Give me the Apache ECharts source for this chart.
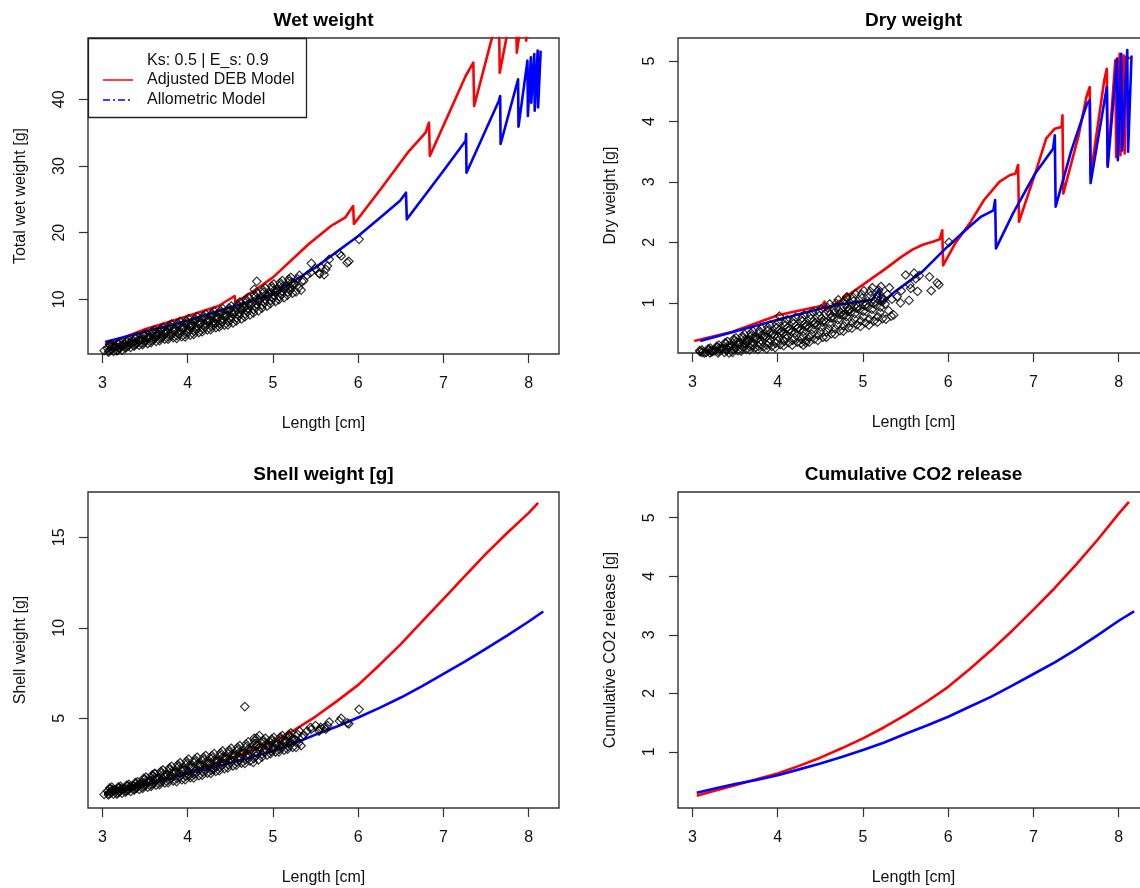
<!DOCTYPE html>
<html>
<head>
<meta charset="utf-8">
<script src="https://cdn.jsdelivr.net/npm/echarts@6/dist/echarts.min.js"></script>
<style>
html,body{margin:0;padding:0;background:#fff;}
#chart{width:1140px;height:888px;}
</style>
</head>
<body>
<div id="chart"></div>
<script>
// ---------------- DATA ----------------
const xTicks = [3, 4, 5, 6, 7, 8];
const wetTicks = [10, 20, 30, 40];
const dryTicks = [1, 2, 3, 4, 5];
const shellTicks = [5, 10, 15];
const co2Ticks = [1, 2, 3, 4, 5];

const panelTitles = ['Wet weight', 'Dry weight', 'Shell weight [g]', 'Cumulative CO2 release'];
const yTitles = ['Total wet weight [g]', 'Dry weight [g]', 'Shell weight [g]', 'Cumulative CO2 release [g]'];
const xTitle = 'Length [cm]';
const legendTitle = 'Ks: 0.5 | E_s: 0.9';
const legendNames = ['Adjusted DEB Model', 'Allometric Model'];

// observed individuals: length [cm] and weights [g]
const obsLength = [
  3.06,3.07,3.09,3.10,3.11,3.13,3.14,
  3.16,3.17,3.19,3.20,3.21,3.23,3.24,
  3.26,3.27,3.29,3.30,3.31,3.33,3.34,
  3.36,3.37,3.39,3.40,3.41,3.43,3.44,
  3.46,3.47,3.49,3.50,3.51,3.53,3.54,
  3.56,3.57,3.59,3.60,3.61,3.63,3.64,
  3.66,3.67,3.69,3.70,3.71,3.73,3.74,
  3.76,3.77,3.79,3.80,3.81,3.83,3.84,
  3.86,3.87,3.89,3.90,3.91,3.93,3.94,
  3.96,3.97,3.99,4.00,4.01,4.03,4.04,
  4.06,4.07,4.09,4.10,4.11,4.13,4.14,
  4.16,4.17,4.19,4.20,4.21,4.23,4.24,
  4.26,4.27,4.29,4.30,4.31,4.33,4.34,
  4.36,4.37,4.39,4.40,4.41,4.43,4.44,
  4.46,4.47,4.49,4.50,4.51,4.53,4.54,
  4.56,4.57,4.59,4.60,4.61,4.63,4.64,
  4.66,4.67,4.69,4.70,4.71,4.73,4.74,
  4.76,4.77,4.79,4.80,4.81,4.83,4.84,
  4.86,4.87,4.89,4.90,4.91,4.93,4.94,
  4.96,4.97,4.99,5.00,5.01,5.03,5.04,
  5.06,5.07,5.09,5.10,5.11,5.13,5.14,
  5.16,5.17,5.19,5.20,5.21,5.23,5.24,
  5.26,5.27,5.29,5.30,5.31,5.33,5.34,
  3.075,3.085,3.105,3.115,3.125,
  3.175,3.185,3.205,3.215,3.225,
  3.275,3.285,3.305,3.315,3.325,
  3.375,3.385,3.405,3.415,3.425,
  3.475,3.485,3.505,3.515,3.525,
  3.575,3.585,3.605,3.615,3.625,
  3.675,3.685,3.705,3.715,3.725,
  3.775,3.785,3.805,3.815,3.825,
  3.875,3.885,3.905,3.915,3.925,
  3.975,3.985,4.005,4.015,4.025,
  4.075,4.085,4.105,4.115,4.125,
  4.175,4.185,4.205,4.215,4.225,
  4.275,4.285,4.305,4.315,4.325,
  4.375,4.385,4.405,4.415,4.425,
  4.475,4.485,4.505,4.515,4.525,
  4.575,4.585,4.605,4.615,4.625,
  4.675,4.685,4.705,4.715,4.725,
  4.775,4.785,4.805,4.815,4.825,
  4.875,4.885,4.905,4.915,4.925,
  4.975,4.985,5.005,5.015,5.025,
  5.075,5.085,5.105,5.115,5.125,
  5.175,5.185,5.205,5.215,5.225,
  3.02,3.62,4.02,4.30,4.33,4.67,4.78,4.81,4.84,
  5.36,5.40,5.44,5.45,5.50,5.54,5.55,5.56,5.60,5.62,5.64,5.66,5.78,5.80,5.87,5.89,6.01
];
const obsWet = [
  2.65,2.07,3.04,2.39,3.30,2.20,2.85,
  2.85,2.27,3.24,2.59,3.50,2.40,3.05,
  3.25,2.67,3.64,2.99,3.90,2.80,3.45,
  3.65,2.98,4.10,3.35,4.40,3.13,3.88,
  4.00,3.19,4.54,3.64,4.90,3.37,4.27,
  4.40,3.50,5.00,4.00,5.40,3.70,4.70,
  4.75,3.80,5.38,4.33,5.80,4.02,5.07,
  5.10,4.02,5.82,4.62,6.30,4.26,5.46,
  5.35,4.14,6.16,4.81,6.70,4.41,5.76,
  5.65,4.35,6.52,5.07,7.10,4.64,6.09,
  6.00,4.74,6.84,5.44,7.40,5.02,6.42,
  6.40,5.14,7.24,5.84,7.80,5.42,6.82,
  6.75,5.45,7.62,6.17,8.20,5.74,7.19,
  7.15,5.85,8.02,6.57,8.60,6.14,7.59,
  7.50,6.15,8.40,6.90,9.00,6.45,7.95,
  8.10,6.75,9.00,7.50,9.60,7.05,8.55,
  8.75,7.36,9.68,8.13,10.30,7.67,9.22,
  9.40,7.96,10.36,8.76,11.00,8.28,9.88,
  10.10,8.66,11.06,9.46,11.70,8.98,10.58,
  10.75,9.36,11.68,10.13,12.30,9.67,11.22,
  11.30,9.95,12.20,10.70,12.80,10.25,11.75,
  11.90,10.64,12.74,11.34,13.30,10.92,12.32,
  12.30,11.13,13.08,11.78,13.60,11.39,12.69,
  2.26,3.17,2.59,2.91,2.78,
  2.46,3.37,2.79,3.11,2.98,
  2.86,3.77,3.19,3.51,3.38,
  3.20,4.25,3.58,3.95,3.80,
  3.46,4.72,3.91,4.36,4.18,
  3.80,5.20,4.30,4.80,4.60,
  4.12,5.59,4.65,5.17,4.96,
  4.38,6.06,4.98,5.58,5.34,
  4.54,6.43,5.22,5.89,5.62,
  4.78,6.81,5.51,6.23,5.94,
  5.16,7.12,5.86,6.56,6.28,
  5.56,7.52,6.26,6.96,6.68,
  5.88,7.91,6.61,7.33,7.04,
  6.28,8.31,7.01,7.73,7.44,
  6.60,8.70,7.35,8.10,7.80,
  7.20,9.30,7.95,8.70,8.40,
  7.82,9.99,8.60,9.37,9.06,
  8.44,10.68,9.24,10.04,9.72,
  9.14,11.38,9.94,10.74,10.42,
  9.82,11.99,10.60,11.37,11.06,
  10.40,12.50,11.15,11.90,11.60,
  11.06,13.02,11.76,12.46,12.18,
  2.30,4.30,5.90,6.60,6.40,8.80,11.50,12.70,10.00,
  12.8,13.6,14.0,15.4,14.6,13.9,13.8,14.8,13.7,14.5,15.0,16.0,16.8,16.5,15.5,15.7,19.0
];
const obsDry = [
  0.15,0.09,0.19,0.12,0.22,0.10,0.17,
  0.18,0.11,0.22,0.15,0.25,0.12,0.20,
  0.21,0.13,0.26,0.17,0.30,0.15,0.24,
  0.25,0.15,0.32,0.21,0.36,0.17,0.28,
  0.30,0.18,0.37,0.25,0.42,0.21,0.33,
  0.33,0.20,0.42,0.27,0.48,0.23,0.38,
  0.37,0.22,0.46,0.30,0.53,0.25,0.42,
  0.40,0.23,0.51,0.32,0.58,0.27,0.45,
  0.43,0.24,0.55,0.34,0.63,0.28,0.49,
  0.46,0.26,0.59,0.37,0.68,0.31,0.53,
  0.50,0.29,0.63,0.41,0.72,0.34,0.56,
  0.52,0.30,0.66,0.42,0.76,0.35,0.59,
  0.55,0.33,0.70,0.45,0.80,0.38,0.63,
  0.59,0.35,0.74,0.48,0.85,0.40,0.67,
  0.63,0.38,0.79,0.52,0.90,0.43,0.71,
  0.69,0.43,0.86,0.57,0.98,0.49,0.78,
  0.75,0.48,0.93,0.63,1.05,0.54,0.84,
  0.80,0.53,0.98,0.68,1.10,0.59,0.89,
  0.85,0.58,1.03,0.73,1.15,0.64,0.94,
  0.89,0.61,1.08,0.77,1.20,0.67,0.98,
  0.93,0.63,1.12,0.80,1.25,0.70,1.02,
  0.96,0.68,1.15,0.84,1.27,0.74,1.05,
  0.98,0.73,1.14,0.87,1.25,0.78,1.06,
  0.11,0.21,0.14,0.18,0.16,
  0.13,0.24,0.17,0.21,0.19,
  0.16,0.28,0.20,0.25,0.23,
  0.18,0.34,0.24,0.29,0.27,
  0.22,0.40,0.28,0.35,0.32,
  0.24,0.45,0.32,0.39,0.36,
  0.27,0.50,0.35,0.43,0.40,
  0.28,0.54,0.38,0.47,0.43,
  0.30,0.59,0.40,0.51,0.47,
  0.33,0.64,0.44,0.55,0.50,
  0.36,0.68,0.47,0.59,0.54,
  0.38,0.71,0.50,0.62,0.57,
  0.40,0.75,0.53,0.65,0.60,
  0.43,0.80,0.56,0.69,0.64,
  0.46,0.85,0.60,0.74,0.68,
  0.52,0.92,0.66,0.81,0.75,
  0.57,0.99,0.72,0.87,0.81,
  0.62,1.04,0.77,0.92,0.86,
  0.67,1.09,0.82,0.97,0.91,
  0.70,1.14,0.86,1.01,0.95,
  0.73,1.19,0.89,1.06,0.99,
  0.77,1.21,0.93,1.08,1.02,
  0.10,0.33,0.78,0.30,0.34,0.85,0.80,1.08,0.90,
  0.80,1.10,1.00,1.20,1.46,1.04,1.30,1.24,1.49,1.40,1.19,1.45,1.43,1.20,1.33,1.30,2.00
];
const obsShell = [
  0.98,0.77,1.11,0.89,1.20,0.82,1.04,
  1.03,0.82,1.16,0.94,1.25,0.87,1.09,
  1.13,0.92,1.26,1.04,1.35,0.97,1.19,
  1.25,1.03,1.40,1.15,1.50,1.08,1.33,
  1.43,1.13,1.62,1.30,1.75,1.20,1.52,
  1.58,1.24,1.80,1.43,1.95,1.31,1.69,
  1.73,1.34,1.98,1.56,2.15,1.43,1.85,
  1.88,1.45,2.16,1.69,2.35,1.54,2.02,
  2.00,1.51,2.33,1.78,2.55,1.62,2.17,
  2.15,1.61,2.51,1.91,2.75,1.73,2.33,
  2.25,1.71,2.61,2.01,2.85,1.83,2.43,
  2.38,1.86,2.72,2.15,2.95,1.97,2.55,
  2.48,1.96,2.82,2.25,3.05,2.07,2.65,
  2.63,2.11,2.97,2.40,3.20,2.22,2.80,
  2.78,2.26,3.12,2.55,3.35,2.37,2.95,
  2.93,2.41,3.27,2.70,3.50,2.52,3.10,
  3.08,2.51,3.45,2.83,3.70,2.64,3.26,
  3.20,2.57,3.62,2.92,3.90,2.71,3.41,
  3.35,2.86,3.68,3.13,3.90,2.97,3.52,
  3.48,3.05,3.76,3.29,3.95,3.14,3.62,
  3.58,3.15,3.86,3.39,4.05,3.24,3.72,
  3.73,3.30,4.01,3.54,4.20,3.39,3.87,
  3.83,3.40,4.11,3.64,4.30,3.49,3.97,
  0.84,1.16,0.95,1.07,1.02,
  0.89,1.21,1.00,1.12,1.07,
  0.99,1.31,1.10,1.22,1.17,
  1.10,1.45,1.23,1.35,1.30,
  1.23,1.69,1.39,1.56,1.49,
  1.35,1.88,1.54,1.73,1.65,
  1.47,2.07,1.68,1.90,1.81,
  1.59,2.26,1.83,2.07,1.97,
  1.67,2.44,1.95,2.22,2.11,
  1.79,2.63,2.09,2.39,2.27,
  1.89,2.73,2.19,2.49,2.37,
  2.03,2.84,2.32,2.61,2.49,
  2.13,2.94,2.42,2.71,2.59,
  2.28,3.09,2.57,2.86,2.74,
  2.43,3.24,2.72,3.01,2.89,
  2.58,3.39,2.87,3.16,3.04,
  2.70,3.58,3.01,3.33,3.20,
  2.78,3.76,3.13,3.48,3.34,
  3.02,3.79,3.30,3.57,3.46,
  3.19,3.86,3.43,3.67,3.57,
  3.29,3.96,3.53,3.77,3.67,
  3.44,4.11,3.68,3.92,3.82,
  0.80,1.95,1.85,2.20,2.30,5.65,3.90,3.50,4.05,
  4.10,4.30,4.50,4.40,4.60,4.30,4.40,4.50,4.50,4.40,4.60,4.80,4.85,5.00,4.75,4.70,5.50
];

// model curves [length, value]
const wetDeb = [[3.03,3.2],[3.5,5.5],[4.0,7.5],[4.36,9.0],[4.55,10.5],[4.56,9.5],[4.78,11.3],[5.0,13.3],[5.42,18.3],[5.68,21.0],[5.85,22.3],[5.94,24.0],[5.95,21.3],[6.28,26.8],[6.58,32.0],[6.79,35.0],[6.83,36.5],[6.84,31.5],[7.26,43.5],[7.35,45.5],[7.36,39.0],[7.56,48.8],[7.65,53],[7.66,44.0],[7.78,52],[7.85,54],[7.86,47.0],[7.96,56],[7.97,48.8],[8.05,57],[8.06,50],[8.1,58]];
const wetAllo = [[3.03,3.6],[4.0,6.8],[5.0,10.8],[5.5,14.8],[6.0,19.5],[6.28,22.5],[6.49,24.8],[6.56,26.0],[6.57,22.0],[7.0,29.3],[7.26,33.8],[7.265,34.8],[7.27,29.0],[7.65,39.8],[7.665,40.5],[7.67,33.3],[7.875,43.0],[7.88,35.9],[7.985,45.8],[7.99,37.5],[8.025,46.3],[8.03,39.5],[8.065,46.8],[8.07,38.3],[8.105,47.3],[8.11,38.8],[8.14,47.3]];
const dryDeb = [[3.02,0.37],[3.47,0.52],[4.01,0.8],[4.52,0.95],[4.55,1.02],[4.56,0.88],[4.8,1.1],[5.03,1.33],[5.27,1.57],[5.45,1.76],[5.58,1.88],[5.7,1.96],[5.82,2.01],[5.9,2.05],[5.93,2.2],[5.94,1.62],[6.08,1.98],[6.25,2.31],[6.42,2.7],[6.6,3.0],[6.72,3.11],[6.79,3.14],[6.82,3.28],[6.83,2.34],[7.02,3.14],[7.15,3.72],[7.25,3.88],[7.33,3.91],[7.34,4.1],[7.35,2.81],[7.53,3.77],[7.62,4.4],[7.66,4.57],[7.67,3.11],[7.83,4.68],[7.86,4.87],[7.87,3.28],[7.96,5.01],[7.97,3.41],[8.01,5.12],[8.02,3.44],[8.06,5.09],[8.07,3.47],[8.09,5.07],[8.13,5.04]];
const dryAllo = [[3.09,0.37],[4.0,0.72],[4.52,0.91],[4.72,0.97],[5.11,1.05],[5.19,1.23],[5.21,0.99],[5.38,1.19],[5.7,1.52],[5.97,1.9],[6.2,2.2],[6.38,2.42],[6.53,2.53],[6.55,2.7],[6.56,1.9],[6.76,2.48],[7.02,3.14],[7.23,3.55],[7.25,3.77],[7.26,2.59],[7.44,3.5],[7.63,4.3],[7.66,4.35],[7.67,2.98],[7.86,4.57],[7.87,3.25],[7.98,5.04],[7.99,3.36],[8.03,5.12],[8.04,3.52],[8.1,5.18],[8.11,3.5],[8.15,5.09]];
const shellDeb = [[3.02,0.8],[3.25,1.05],[3.5,1.32],[3.75,1.63],[4.0,2.0],[4.25,2.4],[4.5,2.8],[4.75,3.23],[5.0,3.7],[5.25,4.35],[5.5,5.1],[5.75,5.95],[6.0,6.85],[6.25,7.95],[6.5,9.1],[6.75,10.35],[7.0,11.6],[7.25,12.85],[7.5,14.1],[7.75,15.25],[8.0,16.35],[8.11,16.9]];
const shellAllo = [[3.02,0.86],[3.25,1.1],[3.5,1.35],[3.75,1.64],[4.0,1.95],[4.25,2.25],[4.5,2.55],[4.75,2.87],[5.0,3.2],[5.25,3.63],[5.5,4.1],[5.75,4.55],[6.0,5.05],[6.25,5.58],[6.5,6.15],[6.75,6.78],[7.0,7.45],[7.25,8.13],[7.5,8.85],[7.75,9.58],[8.0,10.35],[8.17,10.9]];
const co2Deb = [[3.05,0.25],[3.25,0.33],[3.5,0.43],[3.75,0.53],[4.0,0.63],[4.25,0.76],[4.5,0.9],[4.75,1.06],[5.0,1.23],[5.25,1.42],[5.5,1.63],[5.75,1.86],[6.0,2.11],[6.25,2.41],[6.5,2.73],[6.75,3.07],[7.0,3.43],[7.25,3.8],[7.5,4.2],[7.75,4.62],[8.0,5.07],[8.12,5.27]];
const co2Allo = [[3.05,0.3],[3.25,0.37],[3.5,0.45],[3.75,0.52],[4.0,0.6],[4.25,0.7],[4.5,0.8],[4.75,0.91],[5.0,1.03],[5.25,1.16],[5.5,1.31],[5.75,1.45],[6.0,1.6],[6.25,1.77],[6.5,1.94],[6.75,2.13],[7.0,2.33],[7.25,2.53],[7.5,2.75],[7.75,2.99],[8.0,3.24],[8.18,3.4]];

// ---------------- BUILD ----------------
const FONT = '"Liberation Sans", Arial, sans-serif';
const RED = '#ff0000', BLUE = '#0000ff';
const zip = (a, b) => a.map((v, i) => [v, b[i]]);

const grids = [
  {left: 88, top: 38, width: 471, height: 316},
  {left: 678, top: 38, width: 471, height: 315},
  {left: 88, top: 492, width: 471, height: 316},
  {left: 678, top: 492, width: 471, height: 316}
];
const yRanges = [[1.8, 49.2], [0.17, 5.38], [0.05, 17.5], [0.04, 5.44]];
const yTickSets = [wetTicks, dryTicks, shellTicks, co2Ticks];

const xAxes = grids.map((g, i) => ({
  gridIndex: i, type: 'value', min: 2.83, max: 8.355,
  name: xTitle, nameLocation: 'middle', nameGap: 62,
  nameTextStyle: {fontFamily: FONT, fontSize: 16, color: '#111'},
  axisLine: {show: false},
  axisTick: {show: true, inside: false, length: 9, customValues: xTicks, lineStyle: {color: '#333', width: 1.2}},
  axisLabel: {customValues: xTicks, margin: 22, fontFamily: FONT, fontSize: 16, color: '#111'},
  splitLine: {show: false}
}));
const yAxes = grids.map((g, i) => ({
  gridIndex: i, type: 'value', min: yRanges[i][0], max: yRanges[i][1],
  name: yTitles[i], nameLocation: 'middle', nameGap: 59, nameRotate: 90,
  nameTextStyle: {fontFamily: FONT, fontSize: 16, color: '#111'},
  axisLine: {show: false},
  axisTick: {show: true, inside: false, length: 9, customValues: yTickSets[i], lineStyle: {color: '#333', width: 1.2}},
  axisLabel: {customValues: yTickSets[i], rotate: 90, margin: 20, fontFamily: FONT, fontSize: 16, color: '#111'},
  splitLine: {show: false}
}));

function lineSeries(idx, data, color) {
  return {type: 'line', xAxisIndex: idx, yAxisIndex: idx, data: data, showSymbol: false, symbol: 'none',
    smooth: false, clip: true, z: 2,
    lineStyle: {color: color, width: 2.6, join: 'round'}};
}
function scatterSeries(idx, ys) {
  return {type: 'scatter', xAxisIndex: idx, yAxisIndex: idx, data: zip(obsLength, ys), clip: true, z: 3,
    symbol: 'diamond', symbolSize: [8.5, 8.5], large: false,
    itemStyle: {color: 'rgba(0,0,0,0)', borderColor: '#000', borderWidth: 1.2}};
}

const series = [
  lineSeries(0, wetDeb, RED), lineSeries(0, wetAllo, BLUE), scatterSeries(0, obsWet),
  lineSeries(1, dryDeb, RED), lineSeries(1, dryAllo, BLUE), scatterSeries(1, obsDry),
  lineSeries(2, shellDeb, RED), lineSeries(2, shellAllo, BLUE), scatterSeries(2, obsShell),
  lineSeries(3, co2Deb, RED), lineSeries(3, co2Allo, BLUE)
];

const titleCenters = [[323.5, 21], [913.5, 21], [323.5, 475], [913.5, 475]];
const graphic = titleCenters.map((c, i) => ({
  type: 'text', x: c[0], y: c[1], z: 10,
  style: {text: panelTitles[i], align: 'center', verticalAlign: 'middle', font: 'bold 19px ' + FONT, fill: '#000'}
}));
// legend box
graphic.push({type: 'rect', shape: {x: 88.5, y: 38.5, width: 218, height: 79}, z: 20,
  style: {fill: '#fff', stroke: '#222', lineWidth: 1.3}});
graphic.push({type: 'text', x: 147, y: 61, z: 21,
  style: {text: legendTitle, align: 'left', verticalAlign: 'middle', font: '16px ' + FONT, fill: '#111'}});
graphic.push({type: 'line', shape: {x1: 103, y1: 80, x2: 133, y2: 80}, z: 21,
  style: {stroke: RED, lineWidth: 1.5}});
graphic.push({type: 'text', x: 147, y: 80, z: 21,
  style: {text: legendNames[0], align: 'left', verticalAlign: 'middle', font: '16px ' + FONT, fill: '#111'}});
graphic.push({type: 'line', shape: {x1: 103, y1: 100, x2: 133, y2: 100}, z: 21,
  style: {stroke: BLUE, lineWidth: 1.5, lineDash: [7, 3, 2, 3]}});
graphic.push({type: 'text', x: 147, y: 100, z: 21,
  style: {text: legendNames[1], align: 'left', verticalAlign: 'middle', font: '16px ' + FONT, fill: '#111'}});

const chart = echarts.init(document.getElementById('chart'), null, {renderer: 'canvas'});
chart.setOption({
  animation: false,
  backgroundColor: '#fff',
  grid: grids.map(g => Object.assign({show: true, borderColor: '#333', borderWidth: 1.4, backgroundColor: 'transparent', containLabel: false, outerBoundsMode: 'none'}, g)),
  xAxis: xAxes,
  yAxis: yAxes,
  series: series,
  graphic: graphic
});
</script>
</body>
</html>
